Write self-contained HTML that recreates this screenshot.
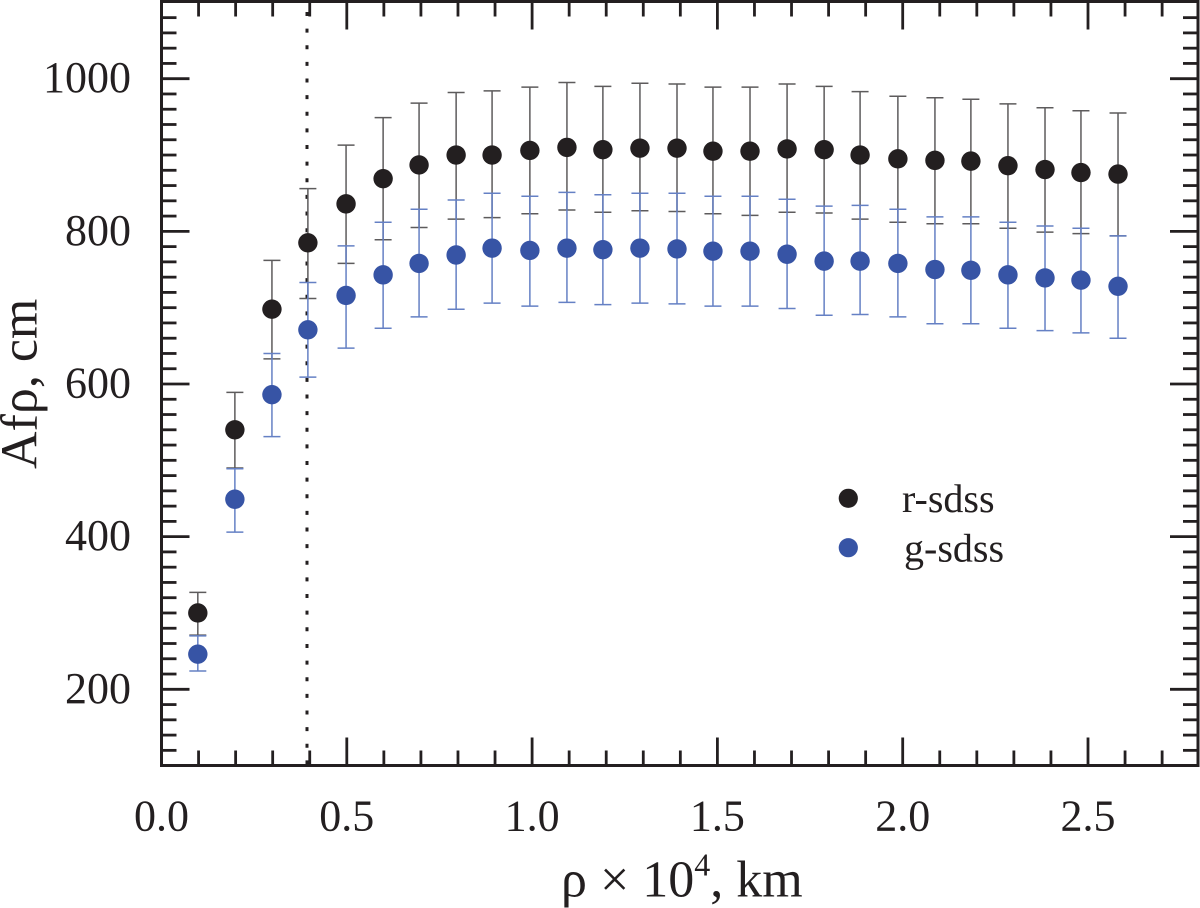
<!DOCTYPE html>
<html lang="en">
<head>
<meta charset="utf-8">
<title>Afρ vs ρ</title>
<style>
html,body{margin:0;padding:0;background:#fff;}
svg{display:block;filter:blur(0.35px);}
text{font-family:"Liberation Serif",serif;fill:#231f20;}
</style>
</head>
<body>
<svg id="chart" xmlns="http://www.w3.org/2000/svg" width="1200" height="908" viewBox="0 0 1200 908"></svg>
<script>
const rho = [0.098,0.198,0.298,0.395,0.498,0.598,0.695,0.795,0.892,0.994,1.094,1.191,1.291,1.391,1.488,1.588,1.688,1.788,1.885,1.987,2.087,2.184,2.284,2.384,2.481,2.581];
const rValues = [300,540,698,785,836,869,887,900,900,906,910,907,909,909,905,905,908,907,900,895,893,892,886,881,877,875];
const rUpper = [327,589,762,856,913,949,968,982,984,989,995,990,994,993,989,989,993,990,983,977,975,973,967,962,958,955];
const rLower = [271,490,633,712,758,789,805,816,818,823,828,825,827,826,823,821,825,824,816,812,810,810,804,799,797,794];
const gValues = [246,449,586,671,716,743,758,769,778,775,778,776,778,777,774,774,770,761,761,758,750,749,743,739,736,728];
const gUpper = [270,489,640,733,781,812,829,841,850,846,851,848,850,850,846,846,842,833,834,829,819,819,812,807,804,794];
const gLower = [224,406,531,609,647,673,688,698,706,702,707,704,706,705,702,702,699,690,691,688,679,679,673,670,667,660];
const xTickLabels = ["0.0","0.5","1.0","1.5","2.0","2.5"];
const yTickLabels = ["200","400","600","800","1000"];
const coreRadiusRho = [0.3926];

const svgNS = "http://www.w3.org/2000/svg";
const svg = document.getElementById("chart");
const frame = {left:161.5, right:1198, top:1.5, bottom:765.5};
const X = v => 161.5 + v * 370.6;
const Y = v => 689.3 - (v - 200) * 0.76325;
const INK = "#231f20", BLUE = "#3754a5";

function make(tag, attrs, parent) {
  const el = document.createElementNS(svgNS, tag);
  for (const k in attrs) el.setAttribute(k, attrs[k]);
  (parent || svg).appendChild(el);
  return el;
}
function group(name) {
  const g = make("g", {});
  
  
  return g;
}

/* ticks */
const ticks = group("axis-ticks");
for (let i = 1; i < 28; i++) {
  const v = i / 10, px = X(v), len = i % 5 === 0 ? 28 : 15;
  make("line", {x1:px, x2:px, y1:frame.bottom, y2:frame.bottom - len, stroke:INK, "stroke-width":2.8}, ticks);
  make("line", {x1:px, x2:px, y1:frame.top, y2:frame.top + len, stroke:INK, "stroke-width":2.8}, ticks);
}
for (let v = 120; v < 1100; v += 20) {
  const py = Y(v), len = v % 200 === 0 ? 28 : 15;
  make("line", {x1:frame.left, x2:frame.left + len, y1:py, y2:py, stroke:INK, "stroke-width":2.8}, ticks);
  make("line", {x1:frame.right, x2:frame.right - len, y1:py, y2:py, stroke:INK, "stroke-width":2.8}, ticks);
}

/* reference line */
const refLine = make("line", {x1:X(coreRadiusRho[0]), x2:X(coreRadiusRho[0]), y1:12, y2:765, stroke:INK, "stroke-width":3, "stroke-dasharray":"4 12.63"});



/* series */
function drawBars(name, xs, hi, lo, color) {
  const g = group(name);
  xs.forEach((x, i) => {
    const px = X(x);
    make("line", {x1:px, x2:px, y1:Y(hi[i]), y2:Y(lo[i]), stroke:color, "stroke-width":1.5}, g);
    make("line", {x1:px-8.5, x2:px+8.5, y1:Y(hi[i]), y2:Y(hi[i]), stroke:color, "stroke-width":1.5}, g);
    make("line", {x1:px-8.5, x2:px+8.5, y1:Y(lo[i]), y2:Y(lo[i]), stroke:color, "stroke-width":1.5}, g);
  });
}
function drawPoints(name, xs, ys, color) {
  const g = group(name);
  xs.forEach((x, i) => {
    make("circle", {cx:X(x), cy:Y(ys[i]), r:9.7, fill:color}, g);
  });
}
drawBars("r-sdss-error-bars", rho, rUpper, rLower, "#5d5b5c");
drawBars("g-sdss-error-bars", rho, gUpper, gLower, "#6580c4");
drawPoints("r-sdss-points", rho, rValues, INK);
drawPoints("g-sdss-points", rho, gValues, BLUE);

/* frame */
const border = make("rect", {x:frame.left, y:frame.top, width:frame.right-frame.left, height:frame.bottom-frame.top, fill:"none", stroke:INK, "stroke-width":3});



/* tick labels */
const xLabels = group("x-tick-labels");
xTickLabels.forEach(t => {
  const el = make("text", {x:X(parseFloat(t)), y:830.7, "text-anchor":"middle", "font-size":44}, xLabels);
  el.textContent = t;
});
const yLabels = group("y-tick-labels");
yTickLabels.forEach(t => {
  const el = make("text", {x:131, y:Y(parseFloat(t))+13.5, "text-anchor":"end", "font-size":44}, yLabels);
  el.textContent = t;
});

/* legend */
const legend = group("legend");
const lg1 = make("circle", {cx:848.3, cy:498.3, r:9.6, fill:INK}, legend);


const lt1 = make("text", {x:902, y:512, "font-size":40}, legend);


lt1.textContent = "r-sdss";
const lg2 = make("circle", {cx:848.3, cy:547.7, r:9.6, fill:BLUE}, legend);


const lt2 = make("text", {x:904, y:561.7, "font-size":40}, legend);


lt2.textContent = "g-sdss";

/* axis titles */
const xt = make("text", {x:561, y:896.7, "font-size":52});


xt.textContent = "ρ × 10";
const sup = make("tspan", {dy:-21, "font-size":32}, xt);
sup.textContent = "4";
const rest = make("tspan", {dy:21}, xt);
rest.textContent = ", km";

const yt = make("text", {transform:"translate(36.7,469) rotate(-90)", "font-size":52});


yt.textContent = "Afρ, cm";
</script>
</body>
</html>
